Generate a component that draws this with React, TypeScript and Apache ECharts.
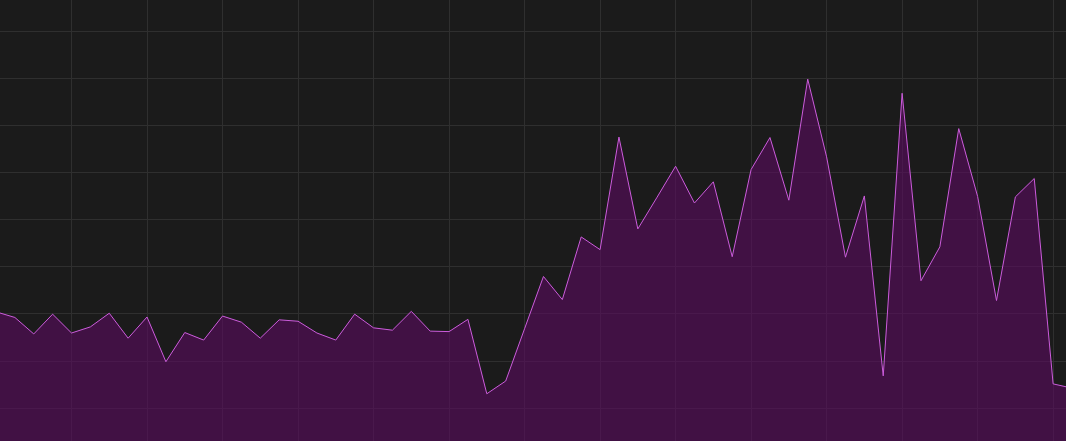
import React, { useEffect, useRef } from "react";
import * as echarts from "echarts";

const categories: string[] = Array.from({ length: 58 }, (_, i) => String(i + 1));

const values: number[] = [
  30.4, 29.2, 25.7, 29.9, 25.9, 27.2, 30.1, 24.8, 29.3, 19.8,
  26.0, 24.4, 29.5, 28.2, 24.8, 28.7, 28.4, 25.9, 24.4, 29.9,
  27.0, 26.5, 30.5, 26.3, 26.2, 28.8, 13.0, 15.7, 26.8, 37.9,
  33.0, 46.3, 43.6, 67.5, 48.0, 54.6, 61.3, 53.5, 58.0, 42.1,
  60.6, 67.4, 54.1, 79.8, 63.3, 42.0, 55.0, 16.8, 76.8, 37.0,
  44.2, 69.3, 54.9, 32.8, 54.8, 58.7, 15.1, 14.2,
];

const yMin = 0;
const yMax = 100;
const yInterval = 10;

export default function App() {
  const ref = useRef<HTMLDivElement | null>(null);

  useEffect(() => {
    if (!ref.current) return;
    const chart = echarts.init(ref.current, undefined, { renderer: "svg" });
    chart.setOption({
      animation: false,
      backgroundColor: "#1b1b1b",
      grid: { left: 0, right: 0, top: 0, bottom: 0, containLabel: false },
      xAxis: {
        type: "category",
        data: categories,
        boundaryGap: false,
        axisLine: { show: false },
        axisTick: { show: false },
        axisLabel: { show: false },
        splitLine: { show: true, interval: 3, lineStyle: { color: "#2f2f2f", width: 1 } },
      },
      yAxis: {
        type: "value",
        min: yMin,
        max: yMax,
        interval: yInterval,
        axisLine: { show: false },
        axisTick: { show: false },
        axisLabel: { show: false },
        splitLine: { show: true, lineStyle: { color: "#2f2f2f", width: 1 } },
      },
      series: [
        {
          type: "line",
          data: values,
          symbol: "none",
          lineStyle: { color: "#cc5cdc", width: 1 },
          areaStyle: { color: "rgba(92,12,97,0.6)", opacity: 1 },
        },
      ],
    });
    return () => chart.dispose();
  }, []);

  return (
    <div
      style={{
        position: "fixed",
        left: 0,
        top: 0,
        width: 1066,
        height: 441,
        overflow: "hidden",
        background: "#1b1b1b",
      }}
    >
      <div
        ref={ref}
        style={{ position: "absolute", left: -4.2, top: -15.85, width: 1075.8, height: 471.25 }}
      />
    </div>
  );
}
